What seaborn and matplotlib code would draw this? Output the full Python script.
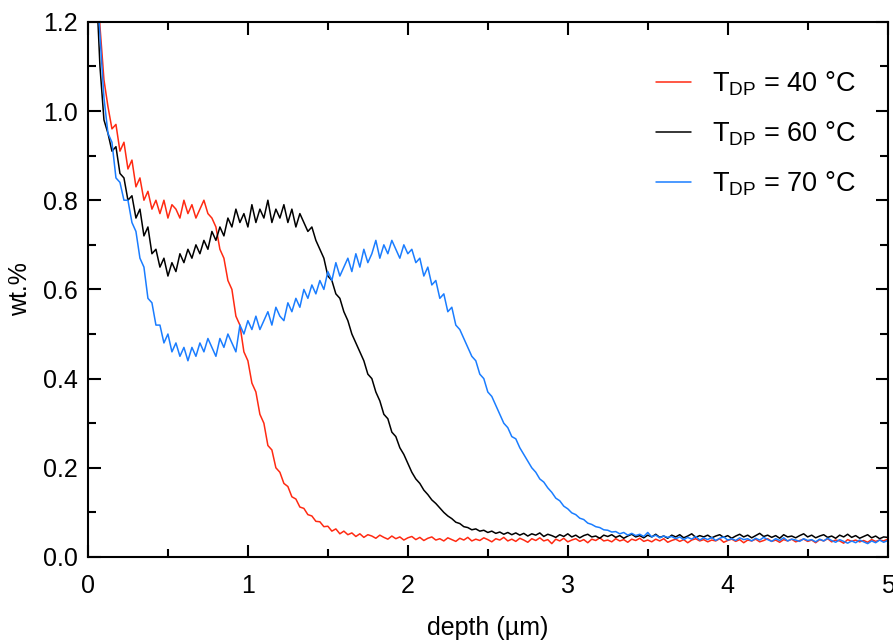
import numpy as np
import pandas as pd
import seaborn as sns
import matplotlib.pyplot as plt
from matplotlib.ticker import MultipleLocator

# depth grid of the profiles (µm), 0.025 µm step
depth = np.round(np.arange(0.05, 5.0001, 0.025), 3)

# wt.% profiles
wt_40 = [
    1.34, 1.19, 1.07, 1.01, 0.96, 0.97, 0.91, 0.93,
    0.87, 0.89, 0.83, 0.85, 0.80, 0.82, 0.78, 0.80,
    0.77, 0.80, 0.76, 0.79, 0.78, 0.76, 0.80, 0.77,
    0.79, 0.76, 0.78, 0.80, 0.77, 0.76, 0.74, 0.69,
    0.67, 0.62, 0.60, 0.54, 0.52, 0.46, 0.44, 0.39,
    0.37, 0.32, 0.30, 0.25, 0.24, 0.20, 0.19, 0.165,
    0.158, 0.135, 0.130, 0.112, 0.109, 0.095, 0.092, 0.080,
    0.079, 0.068, 0.069, 0.058, 0.063, 0.052, 0.058, 0.050,
    0.054, 0.046, 0.052, 0.044, 0.050, 0.047, 0.042, 0.049,
    0.044, 0.040, 0.047, 0.041, 0.045, 0.038, 0.043, 0.046,
    0.039, 0.044, 0.037, 0.042, 0.045, 0.038, 0.041, 0.036,
    0.043, 0.039, 0.035, 0.042, 0.038, 0.044, 0.036, 0.040,
    0.037, 0.043, 0.039, 0.034, 0.041, 0.038, 0.044, 0.036,
    0.040, 0.035, 0.042, 0.038, 0.033, 0.041, 0.037, 0.043,
    0.036, 0.039, 0.030, 0.040, 0.036, 0.042, 0.034, 0.038,
    0.041, 0.035, 0.039, 0.032, 0.040, 0.037, 0.043, 0.036,
    0.038, 0.034, 0.041, 0.036, 0.039, 0.033, 0.040, 0.037,
    0.042, 0.035, 0.038, 0.034, 0.040, 0.036, 0.041, 0.033,
    0.037, 0.040, 0.035, 0.039, 0.032, 0.038, 0.041, 0.036,
    0.039, 0.034, 0.038, 0.036, 0.041, 0.033, 0.037, 0.040,
    0.035, 0.039, 0.032, 0.038, 0.036, 0.040, 0.034, 0.037,
    0.041, 0.035, 0.038, 0.033, 0.039, 0.036, 0.040, 0.034,
    0.037, 0.040, 0.035, 0.038, 0.032, 0.039, 0.036, 0.041,
    0.034, 0.038, 0.036, 0.031, 0.039, 0.035, 0.038, 0.034,
    0.037, 0.033, 0.039, 0.035, 0.038, 0.036, 0.040,
]

wt_60 = [
    1.30, 1.10, 0.98, 0.95, 0.91, 0.92, 0.86, 0.85,
    0.80, 0.81, 0.76, 0.78, 0.72, 0.74, 0.68, 0.69,
    0.65, 0.67, 0.63, 0.66, 0.64, 0.68, 0.66, 0.69,
    0.67, 0.70, 0.68, 0.71, 0.69, 0.73, 0.71, 0.74,
    0.72, 0.76, 0.74, 0.78, 0.75, 0.77, 0.74, 0.79,
    0.75, 0.78, 0.76, 0.80, 0.75, 0.78, 0.76, 0.79,
    0.75, 0.78, 0.74, 0.77, 0.75, 0.73, 0.74, 0.71,
    0.69, 0.67, 0.63, 0.62, 0.59, 0.58, 0.55, 0.53,
    0.50, 0.48, 0.46, 0.44, 0.41, 0.40, 0.37, 0.35,
    0.32, 0.31, 0.28, 0.27, 0.245, 0.23, 0.21, 0.19,
    0.175, 0.165, 0.15, 0.14, 0.128, 0.12, 0.11, 0.10,
    0.092, 0.086, 0.078, 0.075, 0.068, 0.066, 0.061, 0.063,
    0.058, 0.060, 0.055, 0.058, 0.053, 0.056, 0.051, 0.055,
    0.050, 0.054, 0.049, 0.053, 0.047, 0.052, 0.049, 0.054,
    0.046, 0.051, 0.048, 0.044, 0.050, 0.046, 0.052, 0.045,
    0.049, 0.043, 0.048, 0.051, 0.045, 0.047, 0.042, 0.049,
    0.046, 0.050, 0.044, 0.048, 0.042, 0.047, 0.051, 0.045,
    0.048, 0.043, 0.049, 0.045, 0.051, 0.044, 0.047, 0.042,
    0.049, 0.045, 0.050, 0.043, 0.047, 0.052, 0.044, 0.048,
    0.045, 0.049, 0.043, 0.047, 0.050, 0.044, 0.048, 0.042,
    0.047, 0.051, 0.045, 0.049, 0.043, 0.048, 0.053, 0.046,
    0.049, 0.044, 0.048, 0.042, 0.050, 0.045, 0.047, 0.043,
    0.048, 0.052, 0.045, 0.049, 0.043, 0.047, 0.050, 0.044,
    0.047, 0.042, 0.049, 0.045, 0.051, 0.044, 0.048, 0.042,
    0.046, 0.050, 0.043, 0.047, 0.041, 0.045, 0.044,
]

wt_70 = [
    1.32, 1.17, 1.03, 0.95, 0.93, 0.85, 0.84, 0.80,
    0.80, 0.75, 0.73, 0.67, 0.65, 0.58, 0.57, 0.52,
    0.52, 0.48, 0.50, 0.46, 0.48, 0.45, 0.47, 0.44,
    0.47, 0.45, 0.48, 0.46, 0.49, 0.47, 0.45, 0.49,
    0.47, 0.50, 0.48, 0.46, 0.52, 0.50, 0.53, 0.51,
    0.54, 0.51, 0.53, 0.55, 0.52, 0.56, 0.54, 0.53,
    0.57, 0.55, 0.58, 0.56, 0.60, 0.58, 0.61, 0.59,
    0.62, 0.60, 0.64, 0.62, 0.66, 0.63, 0.65, 0.67,
    0.64, 0.68, 0.65, 0.69, 0.66, 0.68, 0.71, 0.67,
    0.70, 0.68, 0.71, 0.69, 0.67, 0.70, 0.68, 0.69,
    0.66, 0.67, 0.63, 0.65, 0.61, 0.62, 0.58, 0.59,
    0.55, 0.56, 0.52, 0.51, 0.49, 0.47, 0.45, 0.44,
    0.41, 0.40, 0.37, 0.36, 0.34, 0.32, 0.30, 0.29,
    0.27, 0.265, 0.245, 0.23, 0.215, 0.20, 0.19, 0.175,
    0.168, 0.155, 0.145, 0.132, 0.126, 0.114, 0.108, 0.099,
    0.095, 0.087, 0.084, 0.076, 0.073, 0.068, 0.066, 0.061,
    0.060, 0.056, 0.057, 0.052, 0.055, 0.049, 0.053, 0.048,
    0.051, 0.046, 0.055, 0.045, 0.049, 0.043, 0.047, 0.044,
    0.046, 0.041, 0.045, 0.039, 0.044, 0.040, 0.046, 0.038,
    0.043, 0.039, 0.044, 0.037, 0.042, 0.045, 0.038, 0.041,
    0.037, 0.043, 0.039, 0.041, 0.036, 0.042, 0.038, 0.044,
    0.039, 0.035, 0.041, 0.037, 0.043, 0.036, 0.040, 0.038,
    0.035, 0.041, 0.037, 0.039, 0.034, 0.040, 0.036, 0.042,
    0.037, 0.033, 0.039, 0.035, 0.031, 0.036, 0.032, 0.038,
    0.034, 0.030, 0.036, 0.032, 0.038, 0.033, 0.037,
]

labels = [r"T$_\mathregular{DP}$ = 40 °C", r"T$_\mathregular{DP}$ = 60 °C", r"T$_\mathregular{DP}$ = 70 °C"]
colors = ["#ff2a12", "#000000", "#1a7dff"]

df = pd.DataFrame({
    "depth": np.concatenate([depth, depth, depth]),
    "wt": np.concatenate([wt_40, wt_60, wt_70]),
    "series": np.repeat(labels, len(depth)),
})

sns.set_style("ticks")
plt.rcParams["font.family"] = ["Liberation Sans", "DejaVu Sans"]
plt.rcParams["mathtext.fontset"] = "custom"
plt.rcParams["mathtext.rm"] = "Liberation Sans"
# plain black text and frame
for key in ["text.color", "axes.labelcolor", "xtick.color", "ytick.color", "axes.edgecolor"]:
    plt.rcParams[key] = "black"

fig, ax = plt.subplots(figsize=(8.93, 6.42), dpi=100)
fig.subplots_adjust(left=0.0985, right=0.994, bottom=0.1324, top=0.966)

sns.lineplot(data=df, x="depth", y="wt", hue="series", hue_order=labels,
             palette=colors, linewidth=1.1, estimator=None, sort=False, ax=ax)

ax.set_xlim(0, 5)
ax.set_ylim(0, 1.2)
ax.xaxis.set_major_locator(MultipleLocator(1))
ax.xaxis.set_minor_locator(MultipleLocator(0.5))
ax.yaxis.set_major_locator(MultipleLocator(0.2))
ax.yaxis.set_minor_locator(MultipleLocator(0.1))
ax.yaxis.set_major_formatter(plt.FormatStrFormatter("%.1f"))

for s in ax.spines.values():
    s.set_linewidth(1.5)
    s.set_color("black")
ax.tick_params(which="both", direction="in", top=True, right=True, width=1.5, colors="black")
ax.tick_params(which="major", length=9, labelsize=18)
ax.tick_params(which="minor", length=5.5)
ax.tick_params(axis="x", which="major", pad=12)
ax.tick_params(axis="y", which="major", pad=7)

ax.set_xlabel("depth (µm)", fontsize=18, labelpad=13)
ax.set_ylabel("wt.%", fontsize=18, labelpad=8)

ax.legend(title=None, frameon=False, fontsize=19.5, loc="upper right",
          bbox_to_anchor=(0.991, 0.957), handlelength=1.3, handletextpad=0.78,
          labelspacing=0.8)

fig.savefig("out.png", dpi=100)
